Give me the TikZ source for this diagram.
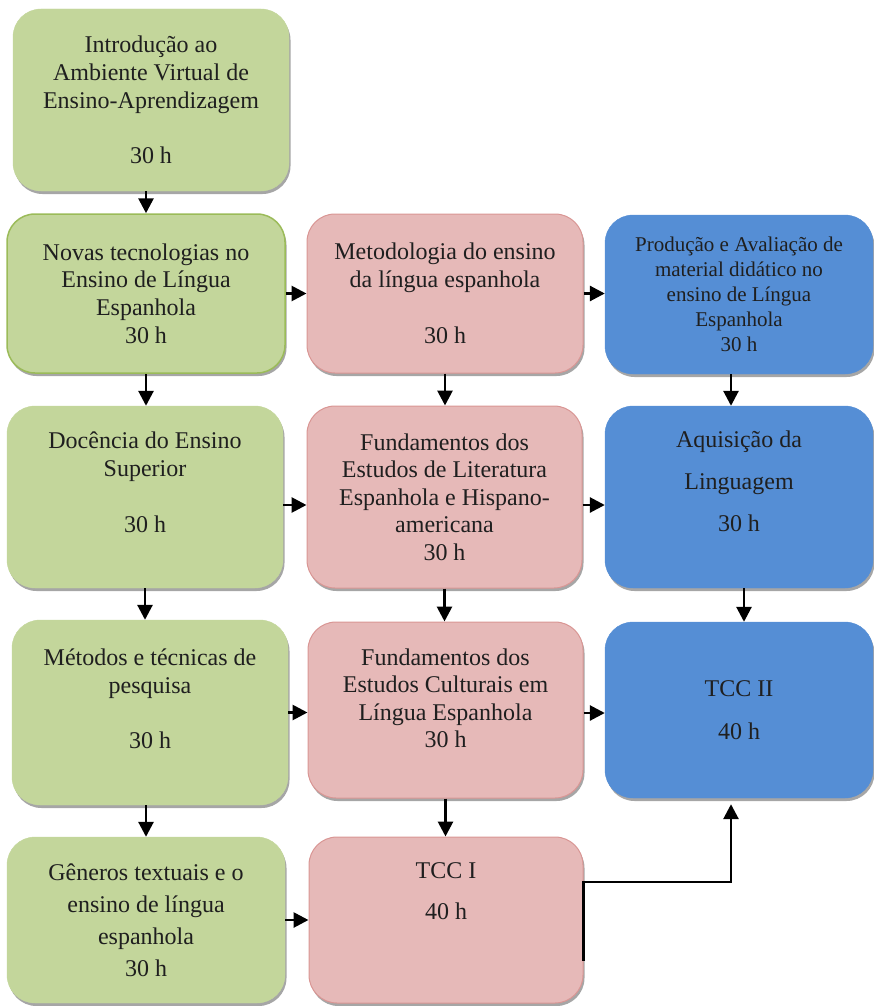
\documentclass[tikz,border=0pt]{standalone}
\usepackage{fontspec}
\setmainfont{Liberation Serif}
\usetikzlibrary{arrows.meta,shadows}
\definecolor{verde}{HTML}{C3D69B}
\definecolor{verdeborda}{HTML}{9BBB59}
\definecolor{rosa}{HTML}{E6B9B8}
\definecolor{rosaborda}{HTML}{D99694}
\definecolor{azul}{HTML}{558ED5}
\begin{document}
\begin{tikzpicture}[x=1pt, y=-1pt,
  caixa/.style={rounded corners=28pt, align=center, inner sep=0pt,
    minimum width=276pt, font=\fontsize{24}{27.6}\selectfont, text=black!88,
    drop shadow={shadow xshift=1.5pt, shadow yshift=-3pt, fill=black!35, opacity=1}},
  verdebox/.style={caixa, fill=verde, draw=verde},
  rosabox/.style={caixa, fill=rosa, draw=rosaborda, line width=1pt},
  azulbox/.style={caixa, fill=azul, draw=azul},
  seta/.style={-{Triangle[width=15pt,length=15pt]}, line width=2.8pt}]
\useasboundingbox (0,0) rectangle (873,1006);

% coluna 1
\node[verdebox, minimum height=182pt] (intro) at (151,100)
  {Introdução ao\\Ambiente Virtual de\\Ensino-Aprendizagem\\[28pt]30 h};
\node[verdebox, draw=verdeborda, line width=1.5pt, minimum width=278pt, minimum height=159pt] (novas) at (146,293.5)
  {Novas tecnologias no\\Ensino de Língua\\Espanhola\\30 h};
\node[verdebox, minimum height=182pt] (docencia) at (145,497)
  {Docência do Ensino\\Superior\\[29pt]30 h\\[2pt]\mbox{}};
\node[verdebox, minimum height=185pt] (metodos) at (150,712.5)
  {Métodos e técnicas de\\pesquisa\\[28pt]30 h\\\mbox{}};
\node[verdebox, minimum width=278pt, minimum height=166pt, font=\fontsize{24}{32}\selectfont] (generos) at (146,920)
  {Gêneros textuais e o\\ensino de língua\\espanhola\\30 h};

% coluna 2
\node[rosabox, minimum height=159pt] (metodologia) at (445,293.5)
  {Metodologia do ensino\\da língua espanhola\\[29pt]30 h};
\node[rosabox, minimum width=275pt, minimum height=182pt] (literatura) at (444.5,497)
  {Fundamentos dos\\Estudos de Literatura\\Espanhola e Hispano-\\americana\\30 h};
\node[rosabox, minimum width=275pt, minimum height=176pt] (culturais) at (445.5,710)
  {Fundamentos dos\\Estudos Culturais em\\Língua Espanhola\\30 h\\[-4pt]\mbox{}};
\node[rosabox, minimum width=274pt, minimum height=166pt] (tccI) at (446,920)
  {TCC I\\[14pt]40 h\\[30pt]\mbox{}};

% coluna 3
\node[azulbox, minimum width=268pt, minimum height=159pt, font=\fontsize{21}{25}\selectfont] (producao) at (739,294.5)
  {Produção e Avaliação de\\material didático no\\ensino de Língua\\Espanhola\\30 h};
\node[azulbox, minimum width=268pt, minimum height=182pt] (aquisicao) at (739,497)
  {Aquisição da\\[14pt]Linguagem\\[14pt]30 h\\[4pt]\mbox{}};
\node[azulbox, minimum width=268pt, minimum height=176pt] (tccII) at (739,710)
  {TCC II\\[15pt]40 h};

% setas verticais
\draw[seta] (intro.south -| novas) -- (novas.north);
\draw[seta] (novas.south) -- (novas.south |- docencia.north);
\draw[seta] (docencia.south) -- (docencia.south |- metodos.north);
\draw[seta] (metodos.south -| generos) -- (generos.north);
\draw[seta] (metodologia.south) -- (metodologia.south |- literatura.north);
\draw[seta] (literatura.south) -- (literatura.south |- culturais.north);
\draw[seta] (culturais.south) -- (culturais.south |- tccI.north);
\draw[seta] ([xshift=-8pt]producao.south) -- ([xshift=-8pt]aquisicao.north);
\draw[seta] ([xshift=5pt]aquisicao.south) -- ([xshift=5pt]tccII.north);

% setas horizontais
\draw[seta] (novas.east) -- (metodologia.west);
\draw[seta] (metodologia.east) -- (metodologia.east -| producao.west);
\draw[seta] ([yshift=-8pt]docencia.east) -- ([yshift=-8pt]literatura.west);
\draw[seta] ([yshift=-8pt]literatura.east) -- ([yshift=-8pt]aquisicao.west);
\draw[seta] (metodos.east) -- (metodos.east -| culturais.west);
\draw[seta] ([yshift=-3pt]culturais.east) -- ([yshift=-3pt]tccII.west);
\draw[seta] (generos.east) -- (tccI.west);

% TCC I -> TCC II
\draw[seta] ([yshift=-41pt]tccI.east) -- ([yshift=38pt]tccI.east) -| ([xshift=-8pt,yshift=-6pt]tccII.south);
\end{tikzpicture}
\end{document}
